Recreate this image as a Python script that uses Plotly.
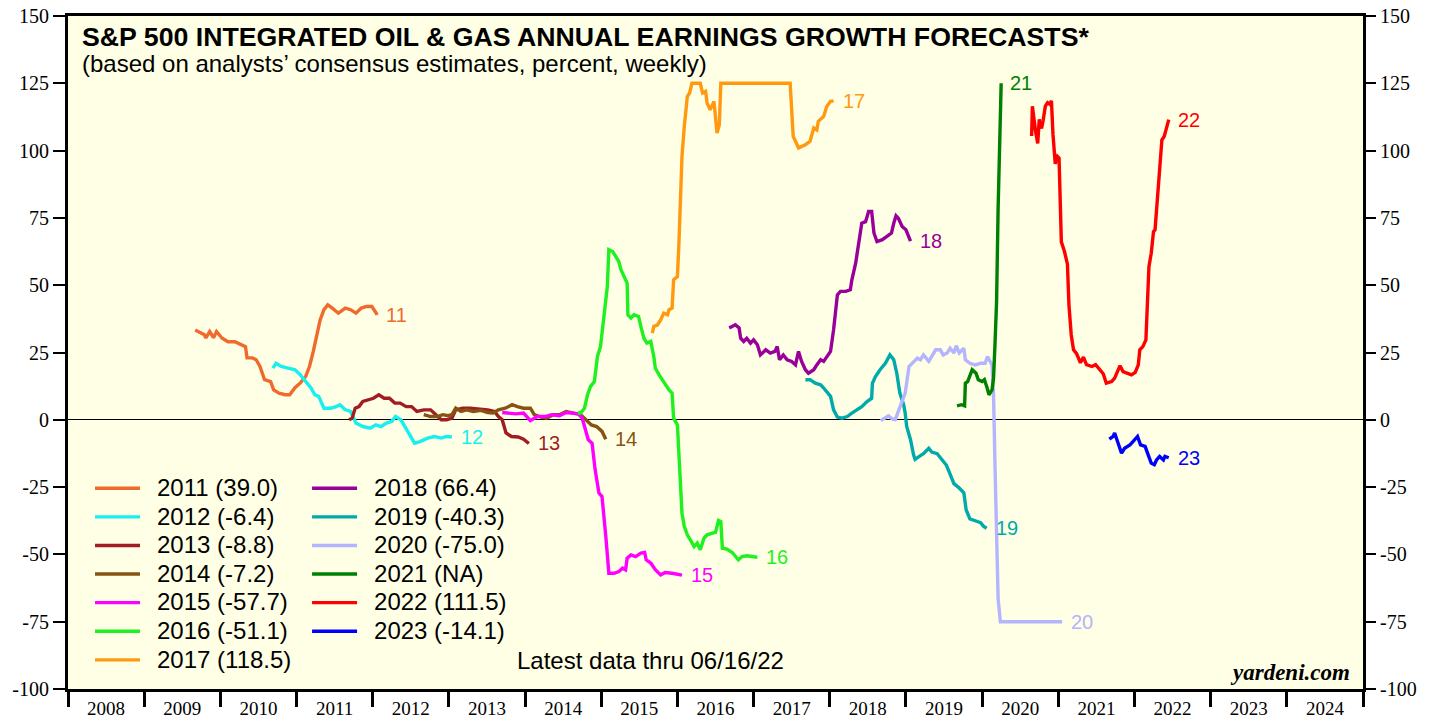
import plotly.graph_objects as go

# forecast dates (decimal years) and values
x2011 = [2009.67, 2009.74, 2009.79, 2009.81, 2009.86, 2009.91, 2009.95, 2010.02, 2010.10, 2010.19,
         2010.28, 2010.33, 2010.35, 2010.42, 2010.47, 2010.52, 2010.58, 2010.66, 2010.70, 2010.77,
         2010.85, 2010.91, 2010.98, 2011.05, 2011.12, 2011.17, 2011.22, 2011.26, 2011.31, 2011.36,
         2011.41, 2011.47, 2011.55, 2011.64, 2011.71, 2011.78, 2011.85, 2011.92, 2011.99, 2012.06]
v2011 = [33.4, 32.2, 31.6, 30.4, 32.8, 30.5, 32.8, 30.4, 29.0, 29.0,
         27.9, 27.2, 23.0, 23.0, 22.3, 19.8, 14.9, 14.2, 11.1, 9.9,
         9.3, 9.3, 11.9, 13.7, 16.1, 19.8, 25.4, 30.9, 37.1, 40.9,
         42.7, 41.5, 39.6, 41.5, 40.9, 39.6, 41.5, 42.1, 42.1, 39.0]

x2012 = [2010.69, 2010.73, 2010.80, 2010.89, 2010.98, 2011.05, 2011.12, 2011.19, 2011.24, 2011.29,
         2011.36, 2011.45, 2011.52, 2011.57, 2011.64, 2011.71, 2011.78, 2011.87, 2011.97, 2012.04,
         2012.11, 2012.18, 2012.25, 2012.30, 2012.37, 2012.41, 2012.48, 2012.55, 2012.62, 2012.72,
         2012.81, 2012.90, 2012.97, 2013.04]
v2012 = [19.2, 21.0, 19.8, 19.2, 18.6, 16.7, 14.2, 11.8, 9.3, 8.7,
         4.3, 4.3, 4.9, 5.6, 3.7, 3.1, -1.2, -2.5, -3.1, -1.9,
         -2.5, -1.2, -0.6, 1.2, 0.0, -1.9, -4.9, -8.7, -8.1, -6.8,
         -6.2, -6.8, -6.2, -6.4]

x2013 = [2011.69, 2011.73, 2011.77, 2011.82, 2011.87, 2011.94, 2012.01, 2012.08, 2012.15, 2012.22,
         2012.29, 2012.36, 2012.44, 2012.51, 2012.58, 2012.67, 2012.76, 2012.83, 2012.90, 2012.97,
         2013.04, 2013.09, 2013.18, 2013.28, 2013.39, 2013.51, 2013.60, 2013.65, 2013.70, 2013.72,
         2013.75, 2013.82, 2013.91, 2013.98, 2014.05]
v2013 = [0.0, 0.6, 4.3, 4.9, 6.8, 7.4, 8.0, 9.3, 8.0, 8.0,
         6.2, 6.2, 4.9, 4.9, 3.1, 3.7, 3.7, 1.9, 0.0, 0.0,
         0.6, 3.7, 4.3, 4.3, 4.0, 3.7, 3.1, 1.2, 0.0, -2.5,
         -4.9, -6.2, -6.4, -7.2, -8.8]

x2014 = [2012.67, 2012.76, 2012.85, 2012.92, 2012.99, 2013.04, 2013.09, 2013.16, 2013.23, 2013.32,
         2013.42, 2013.51, 2013.58, 2013.65, 2013.74, 2013.83, 2013.90, 2013.98, 2014.07, 2014.12,
         2014.19, 2014.28, 2014.37, 2014.45, 2014.54, 2014.63, 2014.73, 2014.80, 2014.87, 2014.94,
         2015.01, 2015.06]
v2014 = [1.9, 1.2, 1.2, 1.9, 1.5, 1.9, 4.3, 3.1, 3.7, 3.1,
         3.5, 2.7, 2.5, 3.7, 4.3, 5.6, 4.9, 4.3, 4.3, 1.9,
         1.2, 0.6, 1.9, 1.9, 3.1, 2.5, 1.9, 0.0, -1.9, -2.5,
         -4.3, -7.2]

x2015 = [2013.70, 2013.79, 2013.88, 2013.98, 2014.07, 2014.16, 2014.26, 2014.35, 2014.45, 2014.54,
         2014.63, 2014.70, 2014.75, 2014.79, 2014.83, 2014.88, 2014.92, 2014.97, 2015.01, 2015.06,
         2015.10, 2015.17, 2015.23, 2015.28, 2015.32, 2015.34, 2015.39, 2015.45, 2015.52, 2015.57,
         2015.59, 2015.65, 2015.71, 2015.78, 2015.84, 2015.93, 2016.06]
v2015 = [2.7, 2.5, 2.2, 2.5, -0.3, 1.2, 1.2, 1.9, 1.5, 2.7,
         2.5, 2.2, 0.6, -3.1, -7.4, -8.7, -18.6, -27.2, -28.5, -43.3,
         -57.0, -57.0, -56.4, -55.1, -55.7, -51.4, -50.2, -50.8, -49.5, -49.3,
         -52.0, -53.2, -55.7, -57.6, -56.7, -57.0, -57.7]

x2016 = [2014.69, 2014.73, 2014.78, 2014.82, 2014.86, 2014.91, 2014.95, 2014.99, 2015.04, 2015.08,
         2015.10, 2015.15, 2015.19, 2015.23, 2015.26, 2015.30, 2015.34, 2015.35, 2015.39, 2015.43,
         2015.49, 2015.52, 2015.56, 2015.60, 2015.65, 2015.69, 2015.71, 2015.76, 2015.80, 2015.84,
         2015.89, 2015.93, 2015.95, 2016.00, 2016.02, 2016.04, 2016.06, 2016.09, 2016.13, 2016.17,
         2016.22, 2016.26, 2016.30, 2016.35, 2016.39, 2016.46, 2016.50, 2016.54, 2016.57, 2016.59,
         2016.65, 2016.72, 2016.76, 2016.80, 2016.85, 2016.91, 2016.98, 2017.05]
v2016 = [2.5, 2.5, 4.3, 9.3, 12.4, 14.2, 23.5, 27.2, 39.6, 49.5,
         63.2, 62.5, 60.7, 58.8, 55.7, 53.2, 50.8, 39.0, 37.8, 39.0,
         38.4, 34.7, 30.3, 28.5, 29.1, 23.5, 19.2, 16.7, 14.9, 13.6,
         11.1, 9.9, 0.6, -1.9, -13.6, -22.3, -34.7, -39.6, -42.7, -44.6,
         -47.1, -45.8, -48.3, -43.9, -42.7, -42.1, -41.8, -37.4, -37.8, -47.7,
         -48.0, -49.3, -50.8, -52.0, -50.8, -50.5, -50.8, -51.1]

x2017 = [2015.67, 2015.69, 2015.74, 2015.78, 2015.82, 2015.87, 2015.89, 2015.93, 2015.95, 2016.00,
         2016.02, 2016.04, 2016.06, 2016.09, 2016.11, 2016.13, 2016.16, 2016.19, 2016.24, 2016.30,
         2016.33, 2016.37, 2016.39, 2016.43, 2016.48, 2016.52, 2016.55, 2016.57, 2016.72, 2017.07,
         2017.48, 2017.52, 2017.59, 2017.68, 2017.74, 2017.79, 2017.83, 2017.85, 2017.92, 2017.96,
         2018.01, 2018.05]
v2017 = [32.2, 34.7, 35.3, 37.1, 39.6, 39.0, 40.9, 41.5, 52.0, 53.2,
         65.6, 84.2, 97.8, 108.9, 113.9, 120.1, 121.4, 125.0, 125.0, 125.0,
         121.4, 122.0, 117.6, 115.2, 118.3, 106.5, 109.6, 125.0, 125.0, 125.0,
         125.0, 105.3, 101.0, 102.2, 103.4, 108.4, 107.7, 110.9, 112.7, 116.4,
         118.3, 118.5]

x2018 = [2016.68, 2016.72, 2016.76, 2016.81, 2016.83, 2016.87, 2016.91, 2016.96, 2017.00, 2017.05,
         2017.09, 2017.16, 2017.22, 2017.28, 2017.31, 2017.34, 2017.39, 2017.44, 2017.50, 2017.55,
         2017.59, 2017.63, 2017.68, 2017.72, 2017.79, 2017.83, 2017.88, 2017.92, 2017.97, 2018.01,
         2018.05, 2018.10, 2018.14, 2018.21, 2018.27, 2018.29, 2018.34, 2018.38, 2018.42, 2018.47,
         2018.51, 2018.55, 2018.58, 2018.62, 2018.69, 2018.75, 2018.81, 2018.84, 2018.87, 2018.90,
         2018.95, 2019.00, 2019.06]
v2018 = [34.1, 34.7, 35.3, 34.1, 30.3, 29.1, 30.3, 28.5, 29.7, 27.9,
         24.1, 26.0, 24.8, 25.4, 27.2, 22.3, 24.1, 22.3, 21.7, 20.4,
         25.4, 21.7, 18.6, 17.3, 18.6, 20.4, 22.3, 21.7, 23.5, 25.4,
         33.4, 46.4, 47.7, 47.7, 48.3, 52.0, 58.2, 65.6, 73.0, 73.6,
         77.4, 77.4, 69.4, 66.2, 66.9, 68.1, 69.4, 73.0, 75.8, 74.9,
         71.8, 70.6, 66.4]

x2019 = [2017.68, 2017.74, 2017.81, 2017.88, 2017.92, 2017.97, 2018.01, 2018.05, 2018.10, 2018.16,
         2018.23, 2018.29, 2018.36, 2018.42, 2018.49, 2018.55, 2018.56, 2018.60, 2018.66, 2018.73,
         2018.79, 2018.84, 2018.88, 2018.90, 2018.92, 2018.97, 2018.99, 2019.01, 2019.06, 2019.10,
         2019.12, 2019.19, 2019.23, 2019.30, 2019.34, 2019.41, 2019.47, 2019.53, 2019.57, 2019.63,
         2019.69, 2019.76, 2019.79, 2019.84, 2019.91, 2019.98, 2020.02, 2020.06]
v2019 = [14.9, 14.9, 13.6, 13.0, 11.8, 9.9, 8.7, 3.7, 1.0, 0.6,
         1.2, 2.5, 3.7, 4.9, 6.8, 8.0, 13.6, 16.1, 18.6, 21.0,
         24.1, 22.3, 17.3, 13.6, 9.9, 5.6, 2.5, -2.5, -7.4, -13.0,
         -14.7, -13.3, -12.6, -10.6, -12.0, -12.6, -14.7, -16.8, -19.5, -23.7,
         -25.1, -27.1, -33.4, -36.8, -37.5, -38.2, -39.6, -40.3]

x2020 = [2018.67, 2018.73, 2018.77, 2018.82, 2018.86, 2018.90, 2018.95, 2018.99, 2019.04, 2019.08,
         2019.15, 2019.19, 2019.23, 2019.30, 2019.34, 2019.39, 2019.45, 2019.49, 2019.54, 2019.58,
         2019.63, 2019.66, 2019.70, 2019.76, 2019.78, 2019.84, 2019.91, 2019.98, 2020.04, 2020.07,
         2020.13, 2020.15, 2020.17, 2020.19, 2020.21, 2020.24, 2020.35, 2021.05]
v2020 = [-0.3, 0.6, 1.5, 0.3, 0.0, 3.1, 7.4, 9.9, 19.8, 21.0,
         22.9, 22.3, 24.1, 21.7, 23.5, 26.0, 26.0, 24.1, 24.8, 26.6,
         24.8, 27.5, 24.8, 26.6, 22.3, 21.0, 20.4, 21.0, 21.0, 23.5,
         20.4, 9.4, -18.2, -45.8, -66.5, -75.0, -75.0, -75.0]

x2021 = [2019.67, 2019.73, 2019.77, 2019.78, 2019.81, 2019.84, 2019.87, 2019.92, 2019.95, 2020.00,
         2020.03, 2020.06, 2020.09, 2020.13, 2020.15, 2020.17, 2020.19, 2020.21, 2020.24, 2020.25]
v2021 = [5.2, 5.6, 5.2, 13.6, 14.2, 16.1, 18.6, 17.3, 14.9, 14.2,
         14.9, 12.4, 9.3, 11.1, 15.5, 28.8, 44.0, 78.5, 106.1, 125.0]

x2022 = [2020.65, 2020.66, 2020.70, 2020.73, 2020.75, 2020.78, 2020.80, 2020.83, 2020.86, 2020.89,
         2020.91, 2020.93, 2020.96, 2020.99, 2021.01, 2021.04, 2021.08, 2021.12, 2021.14, 2021.17,
         2021.20, 2021.24, 2021.29, 2021.33, 2021.37, 2021.44, 2021.49, 2021.55, 2021.59, 2021.63,
         2021.70, 2021.74, 2021.78, 2021.81, 2021.85, 2021.92, 2021.96, 2022.01, 2022.05, 2022.07,
         2022.11, 2022.15, 2022.17, 2022.19, 2022.22, 2022.25, 2022.27, 2022.30, 2022.33, 2022.36,
         2022.39, 2022.42, 2022.45]
v2022 = [105.4, 116.5, 107.5, 102.7, 111.6, 108.2, 111.0, 116.5, 117.8, 117.2,
         118.5, 106.1, 95.1, 97.8, 97.2, 66.1, 62.6, 57.8, 42.6, 31.5,
         26.0, 24.6, 21.2, 23.3, 20.5, 19.8, 20.5, 18.4, 17.1, 13.6,
         14.2, 15.5, 17.9, 20.1, 17.9, 17.3, 16.7, 17.6, 20.4, 26.0,
         27.2, 29.7, 44.6, 56.9, 61.9, 69.9, 70.6, 83.0, 94.1, 104.0,
         105.2, 109.0, 111.5]

x2023 = [2021.67, 2021.72, 2021.74, 2021.79, 2021.83, 2021.87, 2021.94, 2021.98, 2022.04, 2022.08,
         2022.14, 2022.18, 2022.22, 2022.26, 2022.29, 2022.33, 2022.38, 2022.40, 2022.45]
v2023 = [-7.2, -6.2, -4.9, -8.7, -12.4, -10.6, -9.3, -8.1, -6.2, -9.3,
         -9.9, -13.0, -16.1, -16.7, -14.9, -13.6, -14.9, -13.6, -14.1]

legend_names = ["2011 (39.0)", "2012 (-6.4)", "2013 (-8.8)", "2014 (-7.2)", "2015 (-57.7)",
                "2016 (-51.1)", "2017 (118.5)", "2018 (66.4)", "2019 (-40.3)", "2020 (-75.0)",
                "2021 (NA)", "2022 (111.5)", "2023 (-14.1)"]
end_labels = ["11", "12", "13", "14", "15", "16", "17", "18", "19", "20", "21", "22", "23"]
colors = ["#EF6A2C", "#18F0F0", "#A01E23", "#855410", "#FF00FF", "#1FF01F", "#FF9910",
          "#990099", "#00AAAA", "#B4B4FF", "#008000", "#FF0000", "#0000FF"]

year_ticks = list(range(2008, 2025))
y_ticks = list(range(-100, 151, 25))
y_ticktext = [str(v) for v in y_ticks]  # plain hyphen minus, as in the original

xs = [x2011, x2012, x2013, x2014, x2015, x2016, x2017, x2018, x2019, x2020, x2021, x2022, x2023]
vs = [v2011, v2012, v2013, v2014, v2015, v2016, v2017, v2018, v2019, v2020, v2021, v2022, v2023]

SANS = "Liberation Sans, Arial, sans-serif"
SERIF = "Liberation Serif, Times New Roman, serif"

fig = go.Figure()

for i in range(len(xs)):
    fig.add_trace(go.Scatter(
        x=xs[i], y=vs[i], mode="lines",
        # bigger glyphs than the legend font so the rows stay tight
        name='<span style="font-size:24px">\u2002' + legend_names[i] + "</span>",
        line=dict(color=colors[i], width=3.4),
        legend="legend" if i < 7 else "legend2",
        hoverinfo="skip",
    ))
    fig.add_annotation(x=xs[i][-1], y=vs[i][-1], text=end_labels[i], showarrow=False,
                       xanchor="left", yanchor="middle", xshift=7,
                       font=dict(family=SANS, size=20, color=colors[i]))

# dummy trace so the right-hand axis is drawn
fig.add_trace(go.Scatter(x=[None], y=[None], yaxis="y2", showlegend=False, hoverinfo="skip"))

fig.add_annotation(xref="paper", yref="paper", x=0.009, y=0.969, xanchor="left", yanchor="middle",
                   text="<b>S&P 500 INTEGRATED OIL & GAS ANNUAL EARNINGS GROWTH FORECASTS*</b>",
                   showarrow=False, font=dict(family=SANS, size=26.7, color="black"))
fig.add_annotation(xref="paper", yref="paper", x=0.009, y=0.929, xanchor="left", yanchor="middle",
                   text="(based on analysts\u2019 consensus estimates, percent, weekly)",
                   showarrow=False, font=dict(family=SANS, size=24, color="black"))
fig.add_annotation(xref="paper", yref="paper", x=0.345, y=0.043, xanchor="left", yanchor="middle",
                   text="Latest data thru 06/16/22", showarrow=False,
                   font=dict(family=SANS, size=24, color="black"))
fig.add_annotation(xref="paper", yref="paper", x=0.9915, y=0.024, xanchor="right", yanchor="middle",
                   text="<b><i>yardeni.com</i></b>", showarrow=False,
                   font=dict(family=SERIF, size=23, color="black"))

legend_style = dict(font=dict(family=SANS, size=19.7, color="black"), bgcolor="rgba(0,0,0,0)",
                    yanchor="top", xanchor="left", itemwidth=45, tracegroupgap=0)

fig.update_layout(
    width=1439, height=717,
    margin=dict(l=68, r=76, t=16, b=28),
    paper_bgcolor="white",
    plot_bgcolor="#FFFFE5",
    legend=dict(x=0.017, y=0.327, **legend_style),
    legend2=dict(x=0.1846, y=0.327, **legend_style),
    xaxis=dict(
        range=[2008, 2025], showgrid=False, zeroline=False, automargin=False,
        showline=True, linecolor="black", linewidth=3, mirror=True,
        tickvals=[y + 0.5 for y in year_ticks], ticktext=[str(y) for y in year_ticks],
        ticks="", ticklabelstandoff=0,
        tickfont=dict(family=SERIF, size=19, color="black"),
        minor=dict(tickvals=year_ticks + [2025], ticks="outside", ticklen=15,
                   tickwidth=3, tickcolor="black", showgrid=False),
    ),
    yaxis=dict(
        range=[-100, 150], tickvals=y_ticks, ticktext=y_ticktext, showgrid=False,
        zeroline=True, zerolinecolor="black", zerolinewidth=1, automargin=False,
        showline=True, linecolor="black", linewidth=3, mirror=True,
        ticks="outside", ticklen=12, tickwidth=1.5, tickcolor="black",
        tickfont=dict(family=SERIF, size=20, color="black"),
    ),
    yaxis2=dict(
        range=[-100, 150], tickvals=y_ticks, ticktext=y_ticktext, overlaying="y", side="right",
        showgrid=False, zeroline=False, showline=False, automargin=False,
        ticks="outside", ticklen=12, tickwidth=1.5, tickcolor="black",
        tickfont=dict(family=SERIF, size=20, color="black"),
    ),
)

# the page body has a default 8px margin; drop it so the chart sits at the window origin
fig.write_html("out.html", config={"displayModeBar": False},
               post_script="document.body.style.margin='0';")
